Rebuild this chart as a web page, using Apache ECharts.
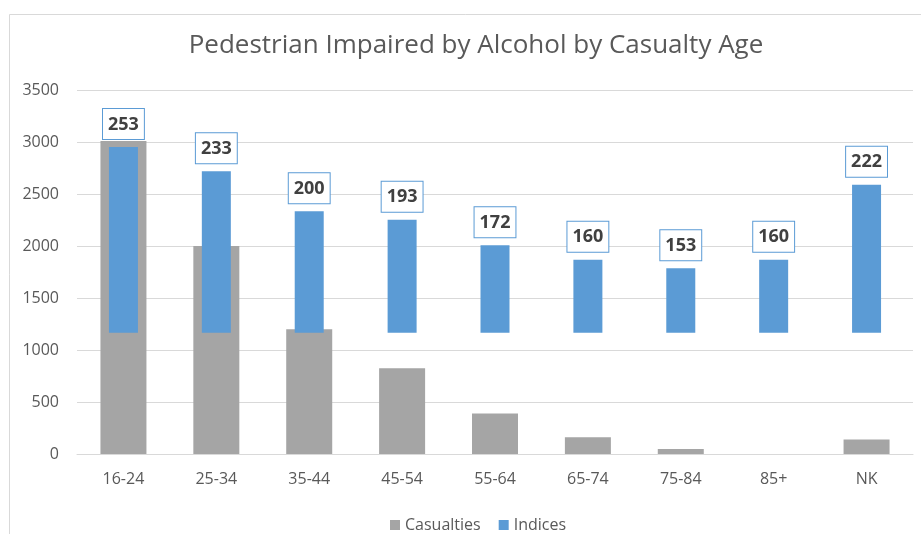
<!DOCTYPE html>
<html>
<head>
<meta charset="utf-8">
<script src="https://cdn.jsdelivr.net/npm/echarts@6/dist/echarts.min.js"></script>
<style>
html,body{margin:0;padding:0;background:#fff;}
#chart{width:921px;height:534px;}
</style>
</head>
<body>
<div id="chart"></div>
<script>
const categories = ['16-24','25-34','35-44','45-54','55-64','65-74','75-84','85+','NK'];
const casualties = [3010, 2000, 1200, 825, 390, 160, 48, 0, 140];
const indices = [253, 233, 200, 193, 172, 160, 153, 160, 222];
const indexBase = 100;
const yTicks = { min: 0, max: 3500, interval: 500 };

const chart = echarts.init(document.getElementById('chart'));
const font = 'Open Sans';
const txt = '#595959';

chart.setOption({
  animation: false,
  backgroundColor: '#ffffff',
  graphic: [{
    type: 'rect', left: 7, top: 12, z: -1,
    shape: { width: 940, height: 560 },
    style: { fill: 'none', stroke: '#d9d9d9', lineWidth: 1 }
  }],
  title: {
    text: 'Pedestrian Impaired by Alcohol by Casualty Age',
    left: 471, top: 28, textAlign: 'center',
    textStyle: { fontFamily: font, fontSize: 26, fontWeight: 'normal', color: txt }
  },
  legend: {
    left: 385, top: 512,
    itemWidth: 10, itemHeight: 10, itemGap: 18,
    icon: 'rect',
    textStyle: { fontFamily: font, fontSize: 16, color: txt },
    data: ['Casualties', 'Indices']
  },
  grid: { left: 77, right: 8, top: 90, bottom: 80 },
  xAxis: [{
    type: 'category', data: categories,
    axisLine: { lineStyle: { color: '#d9d9d9' } },
    axisTick: { show: false },
    axisLabel: { fontFamily: font, fontSize: 16, color: txt, margin: 17 }
  }, {
    type: 'category', data: categories, show: false
  }],
  yAxis: [{
    type: 'value', min: yTicks.min, max: yTicks.max, interval: yTicks.interval,
    axisLine: { show: false }, axisTick: { show: false },
    splitLine: { lineStyle: { color: '#d9d9d9' } },
    axisLabel: { fontFamily: font, fontSize: 16, color: txt, margin: 18, formatter: v => String(v) }
  }, {
    type: 'value', min: 0, max: 300, show: false, splitLine: { show: false }
  }],
  series: [{
    name: 'Casualties', type: 'bar', data: casualties,
    xAxisIndex: 0, yAxisIndex: 0, barWidth: 46,
    itemStyle: { color: '#a5a5a5' }
  }, {
    name: 'IndicesBase', type: 'bar', stack: 'idx',
    data: indices.map(() => indexBase),
    xAxisIndex: 1, yAxisIndex: 1, barWidth: 29,
    itemStyle: { color: 'rgba(0,0,0,0)' },
    silent: true
  }, {
    name: 'Indices', type: 'bar', stack: 'idx',
    data: indices.map(v => v - indexBase),
    xAxisIndex: 1, yAxisIndex: 1, barWidth: 29,
    itemStyle: { color: '#5b9bd5' },
    label: {
      show: true, position: 'top', distance: 8,
      formatter: p => String(indices[p.dataIndex]),
      fontFamily: font, fontSize: 18, fontWeight: 'bold', color: '#404040',
      backgroundColor: '#ffffff', borderColor: '#5b9bd5', borderWidth: 1,
      padding: [4, 5, 3, 5], lineHeight: 23
    }
  }]
});
</script>
</body>
</html>
